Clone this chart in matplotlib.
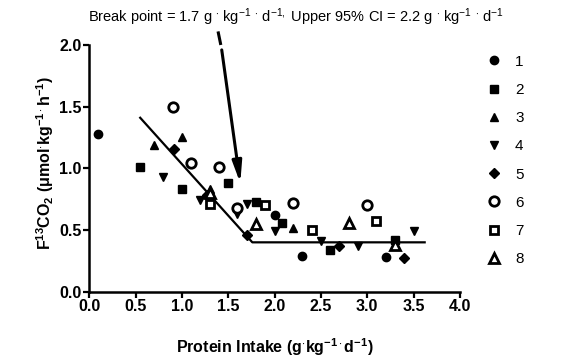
import matplotlib
matplotlib.use("Agg")
import matplotlib.pyplot as plt

plt.rcParams['font.family'] = ['Liberation Sans', 'DejaVu Sans']
plt.rcParams['mathtext.fontset'] = 'custom'
plt.rcParams['mathtext.rm'] = 'Liberation Sans'
plt.rcParams['mathtext.bf'] = 'Liberation Sans:bold'
plt.rcParams['mathtext.it'] = 'Liberation Sans:italic'

# points per subject
x1 = [0.1, 2.0, 2.3, 3.2]
y1 = [1.28, 0.62, 0.29, 0.28]
x2 = [0.55, 1.0, 1.5, 1.8, 2.08, 2.6, 3.3]
y2 = [1.01, 0.83, 0.88, 0.73, 0.56, 0.34, 0.42]
x3 = [0.7, 1.0, 1.3, 2.2]
y3 = [1.19, 1.25, 0.83, 0.52]
x4 = [0.8, 1.2, 1.6, 1.7, 2.0, 2.5, 2.9, 3.5]
y4 = [0.93, 0.74, 0.63, 0.71, 0.49, 0.41, 0.37, 0.49]
x5 = [0.92, 1.27, 1.7, 2.7, 3.4]
y5 = [1.16, 0.78, 0.46, 0.37, 0.27]
x6 = [0.9, 1.1, 1.4, 1.6, 2.2, 3.0]
y6 = [1.50, 1.04, 1.01, 0.68, 0.72, 0.70]
x7 = [1.3, 1.9, 2.4, 3.1]
y7 = [0.71, 0.70, 0.50, 0.57]
x8 = [1.3, 1.8, 2.8, 3.3]
y8 = [0.80, 0.55, 0.56, 0.38]

# broken-line fit
fit_x = [0.55, 1.76, 3.62]
fit_y = [1.41, 0.40, 0.40]

labels = ['1', '2', '3', '4', '5', '6', '7', '8']

fig = plt.figure(figsize=(5.72, 3.57), dpi=100)
ax = fig.add_axes([0.156, 0.183, 0.648, 0.691])

ax.plot(fit_x, fit_y, color='black', lw=1.6, zorder=2)

ms = 6
ax.plot(x1, y1, 'o', color='black', ms=ms, label=labels[0], zorder=3)
ax.plot(x2, y2, 's', color='black', ms=ms - 0.6, label=labels[1], zorder=3)
ax.plot(x3, y3, '^', color='black', ms=ms, label=labels[2], zorder=3)
ax.plot(x4, y4, 'v', color='black', ms=ms, label=labels[3], zorder=3)
ax.plot(x5, y5, 'D', color='black', ms=ms - 1.2, label=labels[4], zorder=3)
ax.plot(x6, y6, 'o', mfc='white', mec='black', mew=2, ms=ms + 0.8, label=labels[5], zorder=3)
ax.plot(x7, y7, 's', mfc='white', mec='black', mew=2, ms=ms + 0.4, label=labels[6], zorder=3)
ax.plot(x8, y8, '^', mfc='white', mec='black', mew=2, ms=ms + 1.2, label=labels[7], zorder=3)

# arrow pointing at the break point
ax.plot([1.39, 1.42], [2.11, 2.0], color='black', lw=2.2, clip_on=False, solid_capstyle='butt')
ax.annotate('', xy=(1.63, 0.88), xytext=(1.43, 1.96),
            arrowprops=dict(arrowstyle='-|>,head_length=0.9,head_width=0.2',
                            lw=2.2, color='black', mutation_scale=14, shrinkA=0, shrinkB=0),
            annotation_clip=False)

ax.set_xlim(0, 4)
ax.set_ylim(0, 2)
ax.set_xticks([0, 0.5, 1.0, 1.5, 2.0, 2.5, 3.0, 3.5, 4.0])
ax.set_yticks([0, 0.5, 1.0, 1.5, 2.0])
ax.set_xticklabels(['0.0', '0.5', '1.0', '1.5', '2.0', '2.5', '3.0', '3.5', '4.0'])
ax.set_yticklabels(['0.0', '0.5', '1.0', '1.5', '2.0'])
for s in ['top', 'right']:
    ax.spines[s].set_visible(False)
for s in ['left', 'bottom']:
    ax.spines[s].set_linewidth(1.8)
ax.tick_params(direction='out', length=4, width=1.6, labelsize=11.5, pad=1.5)
for t in ax.get_xticklabels() + ax.get_yticklabels():
    t.set_fontweight('bold')

ax.set_xlabel(r'Protein Intake (g$^{\mathbf{\cdot}}$kg$^{\mathbf{-1\cdot}}$d$^{\mathbf{-1}}$)',
              fontsize=11.5, fontweight='bold')
ax.xaxis.set_label_coords(0.5, -0.18)
ax.set_ylabel(r'F$^{\mathbf{13}}$CO$_{\mathbf{2}}$ ($\mathbf{\mu}$mol$^{\mathbf{\cdot}}$kg$^{\mathbf{-1\cdot}}$h$^{\mathbf{-1}}$)',
              fontsize=11.5, fontweight='bold')
ax.yaxis.set_label_coords(-0.09, 0.52)

fig.text(0.518, 0.952,
         r'Break point = 1.7 g $^{\cdot}$ kg$^{-1}$ $^{\cdot}$ d$^{-1,}$ Upper 95% CI = 2.2 g $^{\cdot}$ kg$^{-1}$ $^{\cdot}$ d$^{-1}$',
         ha='center', va='center', fontsize=10.5)

ax.legend(loc='upper left', bbox_to_anchor=(1.05, 0.985), frameon=False, numpoints=1,
          handlelength=1.2, handletextpad=0.8, labelspacing=0.93, fontsize=11,
          borderaxespad=0)

fig.savefig('out.png', dpi=100)
